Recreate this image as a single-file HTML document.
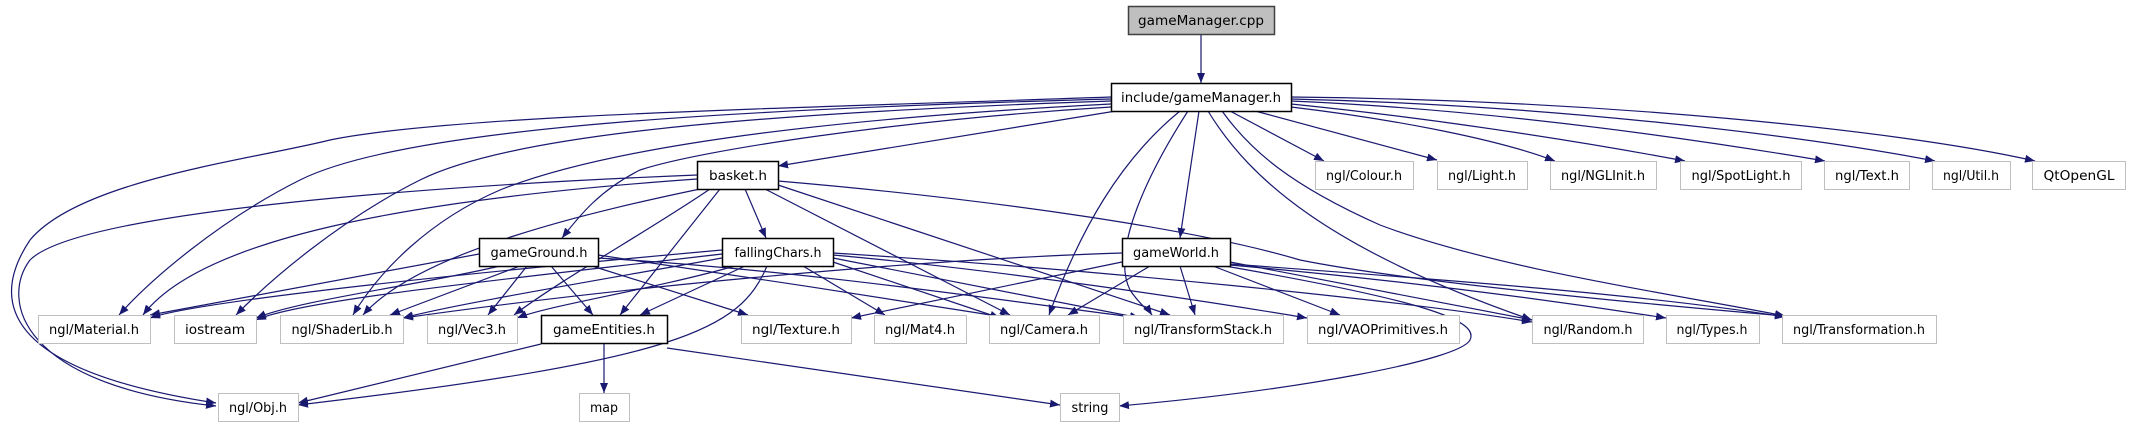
<!DOCTYPE html>
<html><head><meta charset="utf-8"><style>
html,body{margin:0;padding:0;background:#fff;}
svg{display:block;}
text{font-family:"DejaVu Sans","Liberation Sans",sans-serif;font-size:13px;fill:#000;}
</style></head><body>
<svg width="2139" height="427" viewBox="0 0 2139 427" xmlns="http://www.w3.org/2000/svg">
<defs>
<marker id="a" markerWidth="11" markerHeight="8" refX="10" refY="4" orient="auto" markerUnits="userSpaceOnUse">
<path d="M0,0 L10,4 L0,8 Z" fill="#191970"/>
</marker>
</defs>
<g fill="none" stroke="#191970" stroke-width="1.2" marker-end="url(#a)">
<path d="M1201,34 L1201,83"/>
<path d="M1111,97 C800,108 450,115 330,140 C250,160 80,180 30,240 C-10,300 0,370 216,403"/>
<path d="M1111,99 C700,110 400,130 300,180 C220,220 150,280 119,315"/>
<path d="M1111,101 C700,115 500,140 420,180 C340,220 270,280 236,315"/>
<path d="M1111,104 C800,120 600,150 500,190 C430,220 380,270 353,315"/>
<path d="M1111,107 C900,120 700,150 640,170 C600,190 580,215 562,238"/>
<path d="M1116,111 L778,166"/>
<path d="M1180,111 C1120,160 1080,230 1049,315"/>
<path d="M1188,111 C1150,170 1110,250 1130,290 C1140,305 1150,312 1152,315"/>
<path d="M1199,111 L1180,238"/>
<path d="M1208,111 C1250,180 1330,250 1532,320"/>
<path d="M1222,111 C1250,150 1290,185 1380,225 C1500,270 1680,295 1785,316"/>
<path d="M1230,111 L1324,161"/>
<path d="M1255,111 L1437,160"/>
<path d="M1291,107 C1400,120 1500,140 1555,161"/>
<path d="M1291,104 C1450,120 1600,145 1685,161"/>
<path d="M1291,101 C1500,110 1700,140 1825,161"/>
<path d="M1291,99 C1550,105 1800,135 1935,161"/>
<path d="M1291,97 C1600,100 1900,130 2035,161"/>

<path d="M697,175 C450,185 80,210 30,260 C0,300 20,385 216,406"/>
<path d="M697,179 C400,200 200,240 143,315"/>
<path d="M700,189 C600,210 420,250 363,315"/>
<path d="M710,189 C650,230 560,280 514,315"/>
<path d="M720,189 L620,315"/>
<path d="M745,189 L766,238"/>
<path d="M765,189 L1010,315"/>
<path d="M778,185 L1170,315"/>
<path d="M778,181 C1000,200 1200,230 1300,260 C1400,280 1600,300 1785,316"/>

<path d="M479,254 L150,315"/>
<path d="M500,266 C420,285 300,300 256,318"/>
<path d="M520,266 L390,315"/>
<path d="M527,266 L488,315"/>
<path d="M551,266 L593,315"/>
<path d="M598,255 C700,270 900,300 1010,318"/>
<path d="M598,258 C800,270 1000,300 1140,318"/>
<path d="M592,266 L748,315"/>

<path d="M722,250 C500,270 200,300 150,318"/>
<path d="M722,254 C500,280 300,300 256,320"/>
<path d="M722,258 C600,280 450,305 403,318"/>
<path d="M735,266 C650,290 550,305 517,318"/>
<path d="M745,266 L640,315"/>
<path d="M767,266 C740,330 680,360 298,405"/>
<path d="M803,266 L885,315"/>
<path d="M833,262 L1000,318"/>
<path d="M833,258 L1140,318"/>
<path d="M833,255 C1000,270 1200,300 1307,318"/>
<path d="M833,253 C1100,270 1400,300 1532,322"/>

<path d="M1122,253 C900,260 600,290 403,318"/>
<path d="M1122,262 L851,318"/>
<path d="M1150,266 L1068,315"/>
<path d="M1180,266 L1195,315"/>
<path d="M1213,266 L1340,315"/>
<path d="M1230,262 L1532,320"/>
<path d="M1230,265 C1400,280 1550,300 1666,318"/>
<path d="M1230,264 C1450,280 1650,295 1785,317"/>
<path d="M1225,266 C1420,300 1480,320 1470,340 C1460,360 1300,390 1119,406"/>

<path d="M541,344 L298,403"/>
<path d="M604,343 L604,393"/>
<path d="M667,348 L1060,405"/>
</g>

<g stroke-width="1">
<rect x="1128.5" y="6.5" width="146" height="28" fill="#bfbfbf" stroke="#404040" stroke-width="1.5"/>
<g fill="#fff" stroke="#000" stroke-width="1.5">
<rect x="1111.5" y="83.5" width="180" height="28"/>
<rect x="697.5" y="161.5" width="81" height="28"/>
<rect x="479.5" y="238.5" width="119" height="28"/>
<rect x="722.5" y="238.5" width="111" height="28"/>
<rect x="1122.5" y="238.5" width="108" height="28"/>
<rect x="541.5" y="315.5" width="126" height="28"/>
</g>
<g fill="#fff" stroke="#bfbfbf">
<rect x="1315.5" y="161.5" width="98" height="28"/>
<rect x="1437.5" y="161.5" width="90" height="28"/>
<rect x="1550.5" y="161.5" width="106" height="28"/>
<rect x="1680.5" y="161.5" width="121" height="28"/>
<rect x="1824.5" y="161.5" width="85" height="28"/>
<rect x="1932.5" y="161.5" width="78" height="28"/>
<rect x="2032.5" y="161.5" width="93" height="28"/>
<rect x="38.5" y="315.5" width="112" height="28"/>
<rect x="174.5" y="315.5" width="82" height="28"/>
<rect x="280.5" y="315.5" width="123" height="28"/>
<rect x="427.5" y="315.5" width="90" height="28"/>
<rect x="741.5" y="315.5" width="110" height="28"/>
<rect x="874.5" y="315.5" width="92" height="28"/>
<rect x="989.5" y="315.5" width="110" height="28"/>
<rect x="1123.5" y="315.5" width="160" height="28"/>
<rect x="1307.5" y="315.5" width="152" height="28"/>
<rect x="1532.5" y="315.5" width="111" height="28"/>
<rect x="1666.5" y="315.5" width="93" height="28"/>
<rect x="1782.5" y="315.5" width="154" height="28"/>
<rect x="218.5" y="393.5" width="80" height="28"/>
<rect x="579.5" y="393.5" width="50" height="28"/>
<rect x="1060.5" y="393.5" width="59" height="28"/>
</g>
</g>

<g text-anchor="middle">
<text x="1201" y="25" textLength="126" lengthAdjust="spacingAndGlyphs">gameManager.cpp</text>
<text x="1201" y="102" textLength="160" lengthAdjust="spacingAndGlyphs">include/gameManager.h</text>
<text x="738" y="180" textLength="58" lengthAdjust="spacingAndGlyphs">basket.h</text>
<text x="539" y="257" textLength="97" lengthAdjust="spacingAndGlyphs">gameGround.h</text>
<text x="778" y="257" textLength="87" lengthAdjust="spacingAndGlyphs">fallingChars.h</text>
<text x="1176" y="257" textLength="86" lengthAdjust="spacingAndGlyphs">gameWorld.h</text>
<text x="604" y="334" textLength="102" lengthAdjust="spacingAndGlyphs">gameEntities.h</text>
<text x="1364" y="180" textLength="76" lengthAdjust="spacingAndGlyphs">ngl/Colour.h</text>
<text x="1482" y="180" textLength="68" lengthAdjust="spacingAndGlyphs">ngl/Light.h</text>
<text x="1603" y="180" textLength="84" lengthAdjust="spacingAndGlyphs">ngl/NGLInit.h</text>
<text x="1741" y="180" textLength="99" lengthAdjust="spacingAndGlyphs">ngl/SpotLight.h</text>
<text x="1867" y="180" textLength="64" lengthAdjust="spacingAndGlyphs">ngl/Text.h</text>
<text x="1971" y="180" textLength="56" lengthAdjust="spacingAndGlyphs">ngl/Util.h</text>
<text x="2079" y="180" textLength="71" lengthAdjust="spacingAndGlyphs">QtOpenGL</text>
<text x="94" y="334" textLength="90" lengthAdjust="spacingAndGlyphs">ngl/Material.h</text>
<text x="215" y="334" textLength="60" lengthAdjust="spacingAndGlyphs">iostream</text>
<text x="342" y="334" textLength="101" lengthAdjust="spacingAndGlyphs">ngl/ShaderLib.h</text>
<text x="472" y="334" textLength="68" lengthAdjust="spacingAndGlyphs">ngl/Vec3.h</text>
<text x="796" y="334" textLength="88" lengthAdjust="spacingAndGlyphs">ngl/Texture.h</text>
<text x="920" y="334" textLength="70" lengthAdjust="spacingAndGlyphs">ngl/Mat4.h</text>
<text x="1044" y="334" textLength="88" lengthAdjust="spacingAndGlyphs">ngl/Camera.h</text>
<text x="1203" y="334" textLength="138" lengthAdjust="spacingAndGlyphs">ngl/TransformStack.h</text>
<text x="1383" y="334" textLength="130" lengthAdjust="spacingAndGlyphs">ngl/VAOPrimitives.h</text>
<text x="1588" y="334" textLength="89" lengthAdjust="spacingAndGlyphs">ngl/Random.h</text>
<text x="1712" y="334" textLength="71" lengthAdjust="spacingAndGlyphs">ngl/Types.h</text>
<text x="1859" y="334" textLength="132" lengthAdjust="spacingAndGlyphs">ngl/Transformation.h</text>
<text x="258" y="412" textLength="58" lengthAdjust="spacingAndGlyphs">ngl/Obj.h</text>
<text x="604" y="412" textLength="28" lengthAdjust="spacingAndGlyphs">map</text>
<text x="1090" y="412" textLength="37" lengthAdjust="spacingAndGlyphs">string</text>
</g>
</svg>
</body></html>
